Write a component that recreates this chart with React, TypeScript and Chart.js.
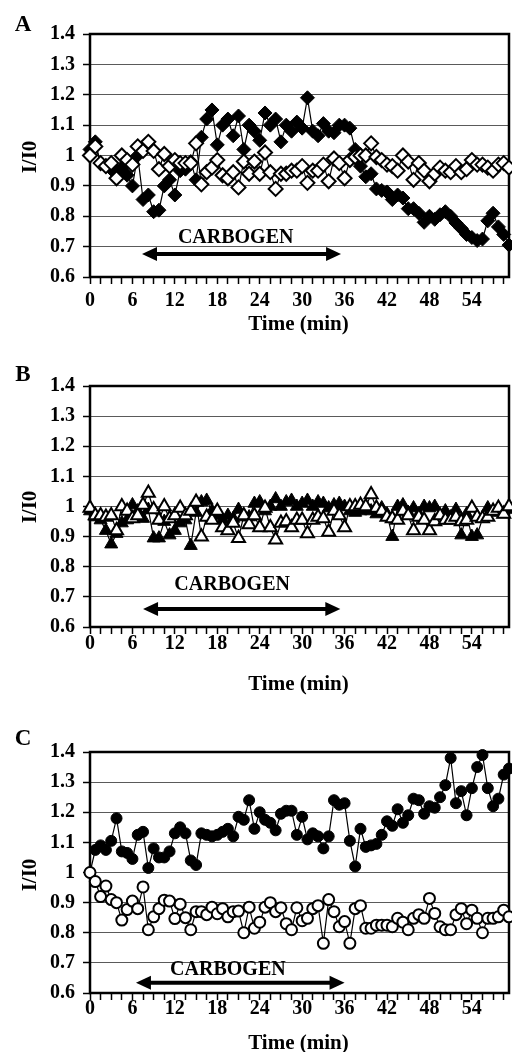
import React, { useEffect, useRef } from 'react';
import { Chart, registerables } from 'chart.js';

Chart.register(...registerables);

// ---------- data ----------
const TIME_MIN = [
  0, 0.75, 1.5, 2.25, 3, 3.75, 4.5, 5.25, 6, 6.75, 7.5, 8.25, 9, 9.75, 10.5, 11.25, 12, 12.75, 13.5, 14.25,
  15, 15.75, 16.5, 17.25, 18, 18.75, 19.5, 20.25, 21, 21.75, 22.5, 23.25, 24, 24.75, 25.5, 26.25, 27, 27.75, 28.5, 29.25,
  30, 30.75, 31.5, 32.25, 33, 33.75, 34.5, 35.25, 36, 36.75, 37.5, 38.25, 39, 39.75, 40.5, 41.25, 42, 42.75, 43.5, 44.25,
  45, 45.75, 46.5, 47.25, 48, 48.75, 49.5, 50.25, 51, 51.75, 52.5, 53.25, 54, 54.75, 55.5, 56.25, 57, 57.75, 58.5, 59.25,
];

const X_LABELS = [0, 6, 12, 18, 24, 30, 36, 42, 48, 54];
const X_MINOR_TICKS = [
  0, 1.5, 3, 4.5, 6, 7.5, 9, 10.5, 12, 13.5, 15, 16.5, 18, 19.5, 21, 22.5, 24, 25.5, 27, 28.5,
  30, 31.5, 33, 34.5, 36, 37.5, 39, 40.5, 42, 43.5, 45, 46.5, 48, 49.5, 51, 52.5, 54, 55.5, 57, 58.5,
];
const Y_TICKS = [0.6, 0.7, 0.8, 0.9, 1.0, 1.1, 1.2, 1.3, 1.4];

const A_FILLED = [
  1.02, 1.045, 0.975, 0.965, 0.955, 0.95, 0.96, 0.935, 0.9, 1.0, 0.855, 0.87, 0.815, 0.82, 0.9, 0.92, 0.87, 0.95, 0.955, 0.98,
  0.92, 1.06, 1.12, 1.15, 1.035, 1.1, 1.12, 1.065, 1.13, 1.02, 1.1, 1.08, 1.05, 1.14, 1.1, 1.12, 1.045, 1.1, 1.08, 1.11,
  1.09, 1.19, 1.08, 1.065, 1.105, 1.08, 1.075, 1.1, 1.1, 1.09, 1.02, 0.965, 0.93, 0.94, 0.89, 0.885, 0.88, 0.855, 0.87, 0.86,
  0.825, 0.825, 0.81, 0.78, 0.8, 0.79, 0.805, 0.815, 0.8, 0.778, 0.76, 0.74, 0.73, 0.72, 0.725, 0.785, 0.81, 0.765, 0.74, 0.705,
];
const A_OPEN = [
  1.0, 1.03, 0.975, 0.965, 0.975, 0.925, 1.0, 0.985, 0.97, 1.03, 1.015, 1.045, 1.015, 0.955, 1.005, 0.965, 0.985, 0.975, 0.975, 0.975,
  1.04, 0.905, 0.945, 0.96, 0.985, 0.935, 0.925, 0.945, 0.895, 0.98, 0.94, 0.98, 0.94, 1.01, 0.945, 0.89, 0.94, 0.94, 0.95, 0.95,
  0.965, 0.91, 0.95, 0.95, 0.97, 0.915, 0.99, 0.975, 0.925, 0.985, 0.995, 1.0, 1.0, 1.04, 0.995, 0.985, 0.97, 0.965, 0.95, 1.0,
  0.98, 0.92, 0.975, 0.95, 0.915, 0.94, 0.96, 0.95, 0.945, 0.965, 0.945, 0.955, 0.985, 0.97, 0.97, 0.96, 0.95, 0.97, 0.975, 0.96,
];
const B_FILLED = [
  0.985, 0.965, 0.955, 0.92, 0.875, 0.91, 0.945, 0.955, 1.005, 0.985, 0.96, 0.99, 0.895, 0.895, 0.95, 0.905, 0.92, 0.945, 0.955, 0.87,
  0.98, 1.015, 1.02, 0.985, 0.97, 0.955, 0.97, 0.96, 0.99, 0.965, 0.965, 1.01, 1.015, 0.985, 1.0, 1.025, 1.0, 1.015, 1.02, 1.0,
  1.01, 1.02, 1.0, 1.015, 1.01, 0.995, 1.005, 1.01, 1.0, 0.985, 0.98, 0.985, 0.99, 0.985, 0.975, 0.995, 0.975, 0.9, 1.0, 1.005,
  0.98, 0.995, 0.975, 1.0, 0.995, 1.0, 0.97, 0.985, 0.965, 0.99, 0.905, 0.975, 0.9, 0.905, 0.96, 0.995, 0.98, 0.99, 0.975, 0.99,
];
const B_OPEN = [
  0.995, 0.97, 0.97, 0.965, 0.97, 0.92, 1.0, 0.985, 0.96, 0.97, 1.005, 1.045, 0.99, 0.955, 1.0, 0.96, 0.97, 0.995, 0.97, 0.985,
  1.015, 0.9, 0.965, 0.955, 0.985, 0.93, 0.92, 0.945, 0.895, 0.97, 0.94, 0.97, 0.93, 0.995, 0.93, 0.89, 0.945, 0.95, 0.93, 0.955,
  0.955, 0.91, 0.955, 0.965, 0.96, 0.915, 0.985, 0.97, 0.93, 1.0, 1.0, 1.005, 1.0, 1.04, 0.995, 0.985, 0.965, 0.96, 0.955, 0.985,
  0.97, 0.92, 0.965, 0.955, 0.92, 0.95, 0.97, 0.955, 0.955, 0.965, 0.95, 0.955, 0.995, 0.965, 0.96, 0.965, 0.985, 0.995, 0.975, 1.0,
];
const C_FILLED = [
  1.0, 1.075, 1.09, 1.075, 1.105, 1.18, 1.07, 1.065, 1.045, 1.125, 1.135, 1.015, 1.08, 1.05, 1.05, 1.07, 1.13, 1.15, 1.13, 1.04,
  1.025, 1.13, 1.125, 1.12, 1.125, 1.135, 1.145, 1.12, 1.185, 1.175, 1.24, 1.145, 1.2, 1.175, 1.165, 1.14, 1.195, 1.205, 1.205, 1.125,
  1.185, 1.11, 1.13, 1.12, 1.08, 1.12, 1.24, 1.225, 1.23, 1.105, 1.02, 1.145, 1.085, 1.09, 1.095, 1.125, 1.17, 1.155, 1.21, 1.165,
  1.19, 1.245, 1.24, 1.195, 1.22, 1.215, 1.25, 1.29, 1.38, 1.23, 1.27, 1.19, 1.28, 1.35, 1.39, 1.28, 1.22, 1.245, 1.325, 1.345,
];
const C_OPEN = [
  1.0, 0.97, 0.92, 0.955, 0.91, 0.9, 0.842, 0.877, 0.905, 0.88, 0.952, 0.81, 0.853, 0.88, 0.908, 0.905, 0.847, 0.895, 0.85, 0.81,
  0.87, 0.87, 0.86, 0.885, 0.863, 0.88, 0.853, 0.87, 0.872, 0.8, 0.885, 0.815, 0.835, 0.885, 0.9, 0.87, 0.883, 0.83, 0.81, 0.883,
  0.84, 0.848, 0.88, 0.89, 0.765, 0.91, 0.87, 0.82, 0.837, 0.765, 0.88, 0.89, 0.815, 0.815, 0.825, 0.825, 0.825, 0.82, 0.848, 0.835,
  0.81, 0.848, 0.86, 0.848, 0.914, 0.864, 0.82, 0.81, 0.81, 0.86, 0.88, 0.83, 0.875, 0.848, 0.8, 0.848, 0.848, 0.853, 0.875, 0.853,
];

// CARBOGEN period arrow (time, min) and its level (I/I0), per panel A, B, C
const CARBOGEN_START = [7.35, 7.5, 6.5];
const CARBOGEN_END = [35.5, 35.4, 36.0];
const CARBOGEN_ARROW_LEVEL = [0.676, 0.66, 0.634];
const CARBOGEN_TEXT_TIME = [20.6, 20.1, 19.5];
const CARBOGEN_TEXT_LEVEL = [0.735, 0.746, 0.681];

const FONT = '"Liberation Serif", "Times New Roman", serif';

type PanelCfg = {
  letter: string;
  top: number;
  height: number;
  plotTop: number;
  plotBottom: number;
  xPad: number;
  titleY: number;
  letterY: number;
  yTitleY: number;
  marker: 'rectRot' | 'triangle' | 'circle';
  radius: number;
  filled: number[];
  open: number[];
  idx: number;
};

const PANELS: PanelCfg[] = [
  { letter: 'A', top: 0, height: 350, plotTop: 34, plotBottom: 277, xPad: 5, titleY: 323, letterY: 23, yTitleY: 157, marker: 'rectRot', radius: 7, filled: A_FILLED, open: A_OPEN, idx: 0 },
  { letter: 'B', top: 350, height: 355, plotTop: 36, plotBottom: 277, xPad: -2, titleY: 333, letterY: 23, yTitleY: 157, marker: 'triangle', radius: 7.5, filled: B_FILLED, open: B_OPEN, idx: 1 },
  { letter: 'C', top: 705, height: 347, plotTop: 47, plotBottom: 288, xPad: -3, titleY: 337, letterY: 32, yTitleY: 170, marker: 'circle', radius: 5.5, filled: C_FILLED, open: C_OPEN, idx: 2 },
];

function Panel({ cfg }: { cfg: PanelCfg }) {
  const ref = useRef<HTMLCanvasElement>(null);
  useEffect(() => {
    const canvas = ref.current!;
    const k = cfg.idx;
    const overlay = {
      id: 'overlay' + cfg.letter,
      beforeDatasetsDraw(chart: any) {
        const { ctx, chartArea } = chart;
        ctx.save();
        ctx.strokeStyle = '#000';
        ctx.lineWidth = 2.5;
        ctx.strokeRect(chartArea.left, chartArea.top, chartArea.right - chartArea.left, chartArea.bottom - chartArea.top);
        ctx.restore();
      },
      afterDatasetsDraw(chart: any) {
        const { ctx, chartArea } = chart;
        const xs = chart.scales.x;
        const ys = chart.scales.y;
        ctx.save();
        ctx.fillStyle = '#000';
        ctx.strokeStyle = '#000';
        // arrow
        const x1 = xs.getPixelForValue(CARBOGEN_START[k]);
        const x2 = xs.getPixelForValue(CARBOGEN_END[k]);
        const ya = ys.getPixelForValue(CARBOGEN_ARROW_LEVEL[k]);
        const hl = 15, hw = 7;
        ctx.lineWidth = 4;
        ctx.beginPath();
        ctx.moveTo(x1 + hl - 1, ya);
        ctx.lineTo(x2 - hl + 1, ya);
        ctx.stroke();
        ctx.beginPath();
        ctx.moveTo(x1, ya);
        ctx.lineTo(x1 + hl, ya - hw);
        ctx.lineTo(x1 + hl, ya + hw);
        ctx.closePath();
        ctx.fill();
        ctx.beginPath();
        ctx.moveTo(x2, ya);
        ctx.lineTo(x2 - hl, ya - hw);
        ctx.lineTo(x2 - hl, ya + hw);
        ctx.closePath();
        ctx.fill();
        // CARBOGEN label
        ctx.font = `bold 20px ${FONT}`;
        ctx.textAlign = 'center';
        ctx.textBaseline = 'alphabetic';
        ctx.fillText('CARBOGEN', xs.getPixelForValue(CARBOGEN_TEXT_TIME[k]), ys.getPixelForValue(CARBOGEN_TEXT_LEVEL[k]) + 6.6);
        // axis titles
        ctx.font = `bold 21px ${FONT}`;
        const cx = (chartArea.left + chartArea.right) / 2;
        ctx.fillText('Time (min)', cx - 1, cfg.titleY + 7);
        ctx.save();
        ctx.translate(29, cfg.yTitleY);
        ctx.rotate(-Math.PI / 2);
        ctx.fillText('I/I0', 0, 7);
        ctx.restore();
        // panel letter
        ctx.font = `bold 23px ${FONT}`;
        ctx.fillText(cfg.letter, 23, cfg.letterY + 7.6);
        ctx.restore();
      },
    };

    const chart = new Chart(canvas, {
      type: 'line',
      data: {
        datasets: [
          {
            data: TIME_MIN.map((t, i) => ({ x: t, y: cfg.open[i] })),
            borderColor: '#000',
            borderWidth: 1.2,
            pointStyle: cfg.marker,
            pointRadius: cfg.radius,
            pointBackgroundColor: '#fff',
            pointBorderColor: '#000',
            pointBorderWidth: 2,
            clip: false,
            tension: 0,
          } as any,
          {
            data: TIME_MIN.map((t, i) => ({ x: t, y: cfg.filled[i] })),
            borderColor: '#000',
            borderWidth: 1.2,
            pointStyle: cfg.marker,
            pointRadius: cfg.radius,
            pointBackgroundColor: '#000',
            pointBorderColor: '#000',
            pointBorderWidth: 1,
            clip: false,
            tension: 0,
          } as any,
        ],
      },
      options: {
        animation: false,
        responsive: false,
        maintainAspectRatio: false,
        events: [],
        layout: { autoPadding: false, padding: { top: cfg.plotTop, right: 3, left: 0, bottom: 0 } } as any,
        plugins: { legend: { display: false }, tooltip: { enabled: false } },
        scales: {
          x: {
            type: 'linear',
            min: 0,
            max: 59.25,
            afterFit: (s: any) => { s.height = cfg.height - cfg.plotBottom; },
            afterBuildTicks: (s: any) => { s.ticks = X_MINOR_TICKS.map((v) => ({ value: v })); },
            grid: { drawOnChartArea: false, drawTicks: true, tickLength: 7, tickColor: '#000', tickWidth: 1.5 } as any,
            border: { display: false },
            ticks: {
              autoSkip: false,
              maxRotation: 0,
              minRotation: 0,
              padding: cfg.xPad,
              color: '#000',
              font: { family: FONT, size: 20, weight: 'bold' },
              callback: (v: any) => (X_LABELS.includes(Number(v)) ? String(v) : ''),
            },
          },
          y: {
            type: 'linear',
            min: 0.6,
            max: 1.4,
            afterFit: (s: any) => { s.width = 90; },
            afterBuildTicks: (s: any) => { s.ticks = Y_TICKS.map((v) => ({ value: v })); },
            grid: { color: '#5a5a5a', lineWidth: 1, drawTicks: true, tickLength: 7, tickColor: '#000', tickWidth: 1.5 } as any,
            border: { display: false },
            ticks: {
              padding: 8,
              color: '#000',
              font: { family: FONT, size: 20, weight: 'bold' },
              callback: (v: any) => String(Math.round(Number(v) * 10) / 10),
            },
          },
        },
      },
      plugins: [overlay],
    });
    return () => chart.destroy();
  }, [cfg]);
  return (
    <canvas
      ref={ref}
      width={512}
      height={cfg.height}
      style={{ position: 'absolute', left: 0, top: cfg.top, width: 512, height: cfg.height }}
    />
  );
}

export default function App() {
  return (
    <div style={{ position: 'absolute', left: 0, top: 0, width: 512, height: 1052, background: '#fff', overflow: 'hidden' }}>
      {PANELS.map((p) => (
        <Panel key={p.letter} cfg={p} />
      ))}
    </div>
  );
}
